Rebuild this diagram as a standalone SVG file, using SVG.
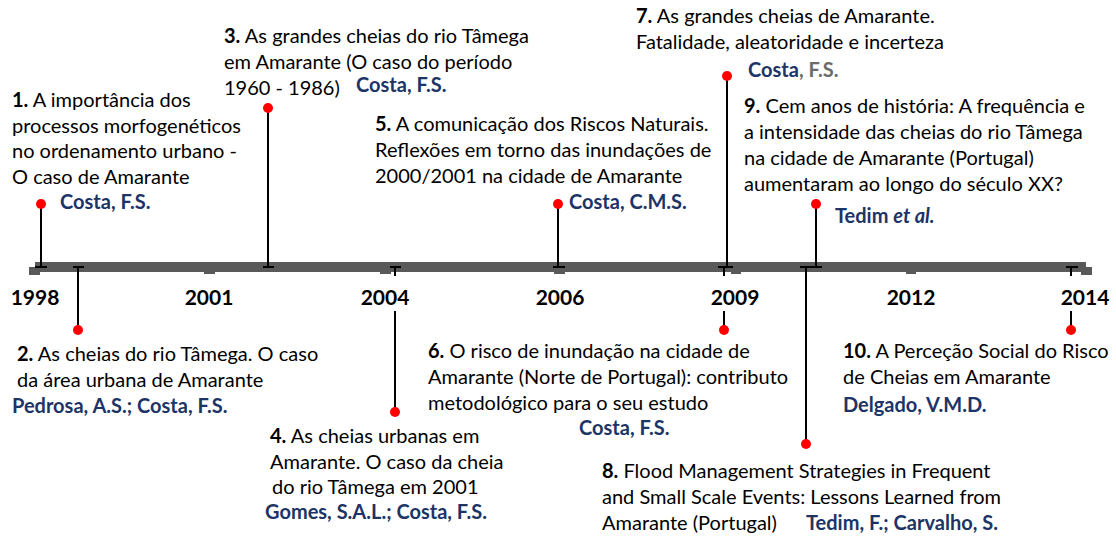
<svg xmlns="http://www.w3.org/2000/svg" width="1116" height="537" viewBox="0 0 1116 537">
<style>
text{font-family:Lato,"Liberation Sans",sans-serif;font-size:20px;fill:#000}
.b{font-weight:bold}
.au{font-weight:bold;fill:#1c3466}
.gr{font-weight:bold;fill:#6b6b6b}
.yr{font-weight:bold;font-size:21px;text-anchor:middle}
.ln{stroke:#000;stroke-width:2;fill:none}
.dot{fill:#ff0000}
.bar{fill:#595959}
</style>
<rect width="1116" height="537" fill="#fff"/>
<g id="axis">
<rect class="bar" x="35" y="262" width="1051" height="10"/>
<rect class="bar" x="29" y="267" width="11" height="8"/>
<rect class="bar" x="204" y="267" width="11" height="7"/>
<rect class="bar" x="380" y="267" width="11" height="7"/>
<rect class="bar" x="554" y="267" width="11" height="7"/>
<rect class="bar" x="731" y="267" width="10" height="7"/>
<rect class="bar" x="906" y="267" width="10" height="7"/>
<rect class="bar" x="1081" y="267" width="11" height="8"/>
</g>
<g id="connectors">
<path class="ln" d="M41 204V267M35 267H47"/>
<path class="ln" d="M78 330V267M73 267H84"/>
<path class="ln" d="M268 108V267M263 267H274"/>
<path class="ln" d="M395 412V267M390 267H401"/>
<path class="ln" d="M558 204V267M553 267H565"/>
<path class="ln" d="M724 330V267M718 267H733"/>
<path class="ln" d="M727 76V267"/>
<path class="ln" d="M806 444V267M800 267H822"/>
<path class="ln" d="M816 204V267"/>
<path class="ln" d="M1071 330V267M1066 267H1078"/>
</g>
<g id="years">
<g fill="#fff"><rect x="380" y="276" width="30" height="35"/><rect x="710" y="276" width="30" height="35"/><rect x="1060" y="276" width="30" height="35"/></g>
<text class="yr" x="35" y="305">1998</text>
<text class="yr" x="209" y="305">2001</text>
<text class="yr" x="385" y="305">2004</text>
<text class="yr" x="560" y="305">2006</text>
<text class="yr" x="735" y="305">2009</text>
<text class="yr" x="911" y="305">2012</text>
<text class="yr" x="1085" y="305">2014</text>
</g>
<g id="n1">
<circle class="dot" cx="41" cy="204" r="5"/>
<text x="12" y="107"><tspan class="b">1.</tspan> A importância dos</text>
<text x="12" y="133">processos morfogenéticos</text>
<text x="12" y="158">no ordenamento urbano -</text>
<text x="12" y="184">O caso de Amarante</text>
<text class="au" x="60" y="209">Costa, F.S.</text>
</g>
<g id="n2">
<circle class="dot" cx="78" cy="330" r="5"/>
<text x="17" y="361"><tspan class="b">2.</tspan> As cheias do rio Tâmega. O caso</text>
<text x="17" y="387">da área urbana de Amarante</text>
<text class="au" x="12" y="413">Pedrosa, A.S.; Costa, F.S.</text>
</g>
<g id="n3">
<circle class="dot" cx="268" cy="108" r="5"/>
<text x="224" y="43"><tspan class="b">3.</tspan> As grandes cheias do rio Tâmega</text>
<text x="224" y="69">em Amarante (O caso do período</text>
<text x="224" y="95">1960 - 1986)</text>
<text class="au" x="356" y="92">Costa, F.S.</text>
</g>
<g id="n4">
<circle class="dot" cx="395" cy="412" r="5"/>
<text x="270" y="443"><tspan class="b">4.</tspan> As cheias urbanas em</text>
<text x="270" y="469">Amarante. O caso da cheia</text>
<text x="272" y="494">do rio Tâmega em 2001</text>
<text class="au" x="265" y="519">Gomes, S.A.L.; Costa, F.S.</text>
</g>
<g id="n5">
<circle class="dot" cx="558" cy="204" r="5"/>
<text x="375" y="131"><tspan class="b">5.</tspan> A comunicação dos Riscos Naturais.</text>
<text x="375" y="157">Reflexões em torno das inundações de</text>
<text x="375" y="183">2000/2001 na cidade de Amarante</text>
<text class="au" x="569" y="209">Costa, C.M.S.</text>
</g>
<g id="n6">
<circle class="dot" cx="724" cy="330" r="5"/>
<text x="428" y="358"><tspan class="b">6.</tspan> O risco de inundação na cidade de</text>
<text x="428" y="384">Amarante (Norte de Portugal): contributo</text>
<text x="428" y="410">metodológico para o seu estudo</text>
<text class="au" x="579" y="435">Costa, F.S.</text>
</g>
<g id="n7">
<circle class="dot" cx="727" cy="76" r="5"/>
<text x="636" y="23"><tspan class="b">7.</tspan> As grandes cheias de Amarante.</text>
<text x="636" y="49">Fatalidade, aleatoridade e incerteza</text>
<text class="au" x="748" y="77">Costa<tspan class="gr">, F.S.</tspan></text>
</g>
<g id="n8">
<circle class="dot" cx="806" cy="444" r="5"/>
<text x="602" y="478"><tspan class="b">8.</tspan> Flood Management Strategies in Frequent</text>
<text x="602" y="504">and Small Scale Events: Lessons Learned from</text>
<text x="602" y="530">Amarante (Portugal)</text>
<text class="au" x="806" y="530">Tedim, F.; Carvalho, S.</text>
</g>
<g id="n9">
<circle class="dot" cx="816" cy="204" r="5"/>
<text x="744" y="113"><tspan class="b">9.</tspan> Cem anos de história: A frequência e</text>
<text x="744" y="139">a intensidade das cheias do rio Tâmega</text>
<text x="744" y="165">na cidade de Amarante (Portugal)</text>
<text x="744" y="191">aumentaram ao longo do século XX?</text>
<text class="au" x="835" y="223">Tedim <tspan font-style="italic">et al.</tspan></text>
</g>
<g id="n10">
<circle class="dot" cx="1071" cy="330" r="5"/>
<text x="843" y="358"><tspan class="b">10.</tspan> A Perceção Social do Risco</text>
<text x="843" y="384">de Cheias em Amarante</text>
<text class="au" x="843" y="412">Delgado, V.M.D.</text>
</g>
</svg>
